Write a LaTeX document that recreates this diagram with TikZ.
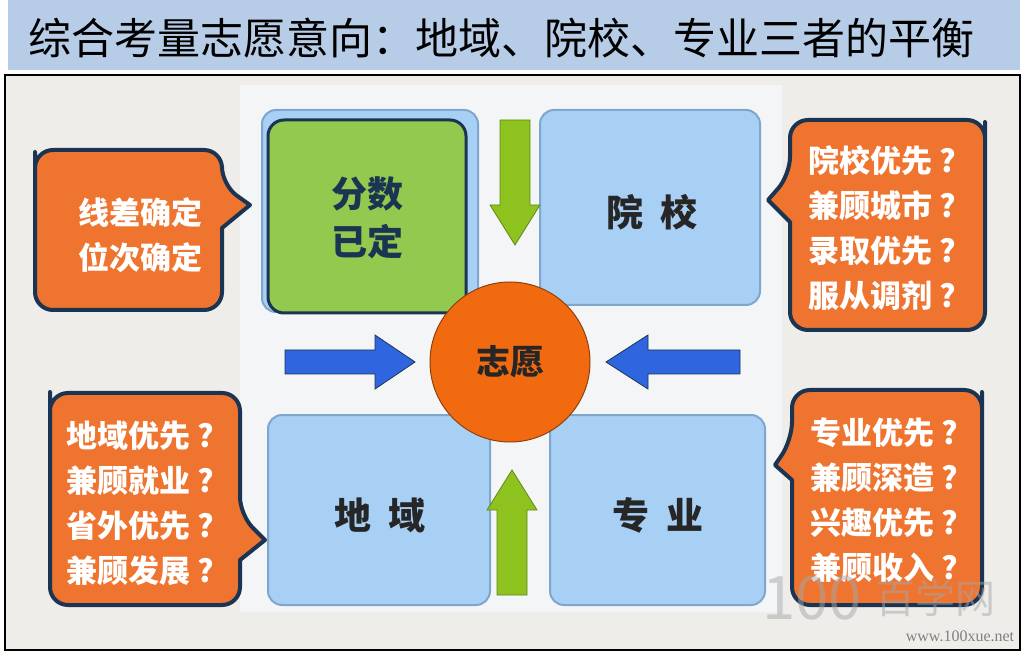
\documentclass[tikz,border=0pt]{standalone}
\usepackage{fontspec}
\setmainfont{Noto Sans CJK SC}
\newfontfamily\wmfont{Liberation Serif}
\usetikzlibrary{arrows.meta}
\definecolor{titlebg}{HTML}{B7CCE6}
\definecolor{framebg}{HTML}{EEEDE9}
\definecolor{panelbg}{HTML}{F4F5F7}
\definecolor{boxblue}{HTML}{A8CFF4}
\definecolor{boxedge}{HTML}{7FA6CC}
\definecolor{gbox}{HTML}{92C94F}
\definecolor{navy}{HTML}{1B3452}
\definecolor{orng}{HTML}{EE7430}
\definecolor{circ}{HTML}{F26A10}
\definecolor{garrow}{HTML}{8DC21F}
\definecolor{barrow}{HTML}{2F66E0}
\tikzset{
 bluebox/.style={draw=boxedge,line width=2pt,fill=boxblue,rounded corners=14pt},
 callout/.style={draw=navy,line width=4pt,fill=orng,line join=round},
 ctext/.style={text=white,font=\fontsize{31}{45}\selectfont\bfseries,align=left},
 btext/.style={text=black!85,font=\fontsize{37}{40}\selectfont\bfseries},
}
\begin{document}
\begin{tikzpicture}[x=1pt,y=-1pt]
\useasboundingbox (0,0) rectangle (1026,660);
\fill[white] (0,0) rectangle (1026,660);
\fill[titlebg] (8,0) rectangle (1020,70);
\node[anchor=west,font=\fontsize{43}{44}\selectfont,inner sep=0pt] (title) at (28,38) {综合考量志愿意向：地域、院校、专业三者的平衡};
\draw[black,line width=1.5pt,fill=framebg] (5,75) rectangle (1020,650);
\fill[panelbg] (240,85) rectangle (782,612);
% boxes
\draw[bluebox] (262,110) rectangle (478,312);
\draw[navy,line width=3pt,fill=gbox,rounded corners=16pt] (268,120) rectangle (466,313);
\node[text=navy,font=\fontsize{36}{48}\selectfont\bfseries,align=center] (fen) at (367,218) {分数\\已定};
\draw[bluebox] (540,110) rectangle (760,305);
\node[btext] (yx) at (652,212) {院\ \ 校};
\draw[bluebox] (268,415) rectangle (490,605);
\node[btext] (dy) at (380,515) {地\ \ 域};
\draw[bluebox] (550,415) rectangle (765,605);
\node[btext] (zy) at (658,515) {专\ \ 业};
% arrows
\fill[garrow,draw=garrow!70!black,line width=0.8pt] (500,120) -- (530,120) -- (530,205) -- (540,205) -- (515,245) -- (490,205) -- (500,205) -- cycle;
\fill[garrow,draw=garrow!70!black,line width=0.8pt] (497,595) -- (527,595) -- (527,510) -- (537,510) -- (512,470) -- (487,510) -- (497,510) -- cycle;
\fill[barrow,draw=navy,line width=0.8pt] (285,350) -- (375,350) -- (375,335) -- (415,362) -- (375,389) -- (375,374) -- (285,374) -- cycle;
\fill[barrow,draw=navy,line width=0.8pt] (740,350) -- (648,350) -- (648,335) -- (606,362) -- (648,389) -- (648,374) -- (740,374) -- cycle;
% circle
\node[circle,minimum size=160pt,fill=circ,draw=circ!60!black,line width=1pt,font=\fontsize{34}{36}\selectfont\bfseries,text=black!85] (zyuan) at (510,362) {志愿};
% callouts
\draw[callout] (35,170) [rounded corners=18pt] -- (35,150) -- (222,150) -- (222,185) [sharp corners] -- (250,205) -- (222,228) [rounded corners=18pt] -- (222,310) -- (35,310) -- cycle;
\node[ctext] (c1) at (140,235) {线差确定\\位次确定};
\draw[callout] (50,410) [rounded corners=18pt] -- (50,393) -- (240,393) -- (240,515) [sharp corners] -- (265,540) -- (240,560) [rounded corners=18pt] -- (240,605) -- (50,605) -- cycle;
\node[ctext] (c2) at (140,503) {地域优先 ?\\兼顾就业 ?\\省外优先 ?\\兼顾发展 ?};
\draw[callout] (985,140) [rounded corners=18pt] -- (985,120) -- (790,120) -- (790,175) [sharp corners] -- (768,200) -- (790,222) [rounded corners=18pt] -- (790,330) -- (985,330) -- cycle;
\node[ctext] (c3) at (882,228) {院校优先 ?\\兼顾城市 ?\\录取优先 ?\\服从调剂 ?};
\draw[callout] (982,410) [rounded corners=18pt] -- (982,390) -- (792,390) -- (792,440) [sharp corners] -- (775,465) -- (792,480) [rounded corners=18pt] -- (792,605) -- (982,605) -- cycle;
\node[ctext] (c4) at (884,500) {专业优先 ?\\兼顾深造 ?\\兴趣优先 ?\\兼顾收入 ?};
% watermark
\node[text=gray!70,font=\fontsize{60}{60}\selectfont\itshape,opacity=0.5] (wm1) at (812,598) {100};
\node[text=gray!70,font=\fontsize{40}{40}\selectfont,opacity=0.5] (wm2) at (935,598) {百学网};
\node[text=gray,font=\wmfont\fontsize{16}{16}\selectfont] (wm3) at (960,636) {www.100xue.net};
\end{tikzpicture}
\end{document}
